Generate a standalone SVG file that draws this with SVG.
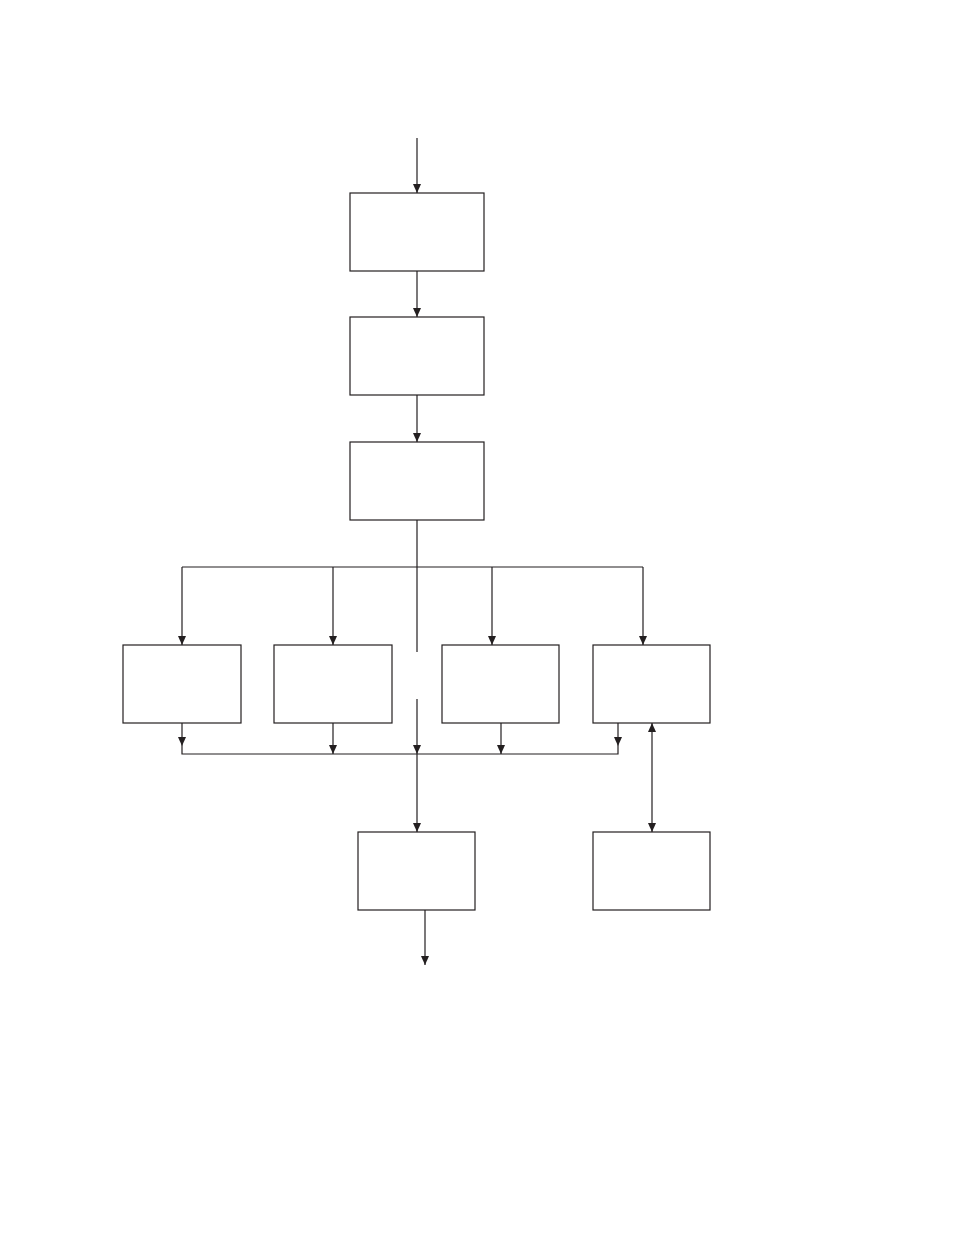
<svg xmlns="http://www.w3.org/2000/svg" width="954" height="1235" viewBox="0 0 954 1235">
<style>
.box{fill:#fff;stroke:#231f20;stroke-width:1.2}
.ln{fill:none;stroke:#231f20;stroke-width:1.2}
</style>
<defs>
<marker id="ah" viewBox="0 0 8 9" refX="4" refY="9" markerWidth="8" markerHeight="9" markerUnits="userSpaceOnUse" orient="auto-start-reverse">
<path d="M0,0 L8,0 L4,9 Z" fill="#231f20" transform="rotate(0)"/>
</marker>
<marker id="ad" viewBox="0 0 9 8" refX="9" refY="4" markerWidth="9" markerHeight="8" markerUnits="userSpaceOnUse" orient="auto-start-reverse">
<path d="M0,0 L9,4 L0,8 Z" fill="#231f20"/>
</marker>
</defs>
<rect width="954" height="1235" fill="#fff"/>
<g id="connectors">
<path class="ln" d="M417,138 V193" marker-end="url(#ad)"/>
<path class="ln" d="M417,271 V317" marker-end="url(#ad)"/>
<path class="ln" d="M417,395 V442" marker-end="url(#ad)"/>
<path class="ln" d="M417,520 V652"/>
<path class="ln" d="M182,567 H643"/>
<path class="ln" d="M182,567 V645" marker-end="url(#ad)"/>
<path class="ln" d="M333,567 V645" marker-end="url(#ad)"/>
<path class="ln" d="M492,567 V645" marker-end="url(#ad)"/>
<path class="ln" d="M643,567 V645" marker-end="url(#ad)"/>
<path class="ln" d="M182,723 V746" marker-end="url(#ad)"/>
<path class="ln" d="M182,746 V754 H618 V746"/>
<path class="ln" d="M618,723 V746" marker-end="url(#ad)"/>
<path class="ln" d="M333,723 V754" marker-end="url(#ad)"/>
<path class="ln" d="M501,723 V754" marker-end="url(#ad)"/>
<path class="ln" d="M417,699 V754" marker-end="url(#ad)"/>
<path class="ln" d="M417,754 V832" marker-end="url(#ad)"/>
<path class="ln" d="M652,723 V832" marker-start="url(#ad)" marker-end="url(#ad)"/>
<path class="ln" d="M425,910 V965" marker-end="url(#ad)"/>
</g>
<g id="n1"><rect class="box" x="350" y="193" width="134" height="78"/></g>
<g id="n2"><rect class="box" x="350" y="317" width="134" height="78"/></g>
<g id="n3"><rect class="box" x="350" y="442" width="134" height="78"/></g>
<g id="n4"><rect class="box" x="123" y="645" width="118" height="78"/></g>
<g id="n5"><rect class="box" x="274" y="645" width="118" height="78"/></g>
<g id="n6"><rect class="box" x="442" y="645" width="117" height="78"/></g>
<g id="n7"><rect class="box" x="593" y="645" width="117" height="78"/></g>
<g id="n8"><rect class="box" x="358" y="832" width="117" height="78"/></g>
<g id="n9"><rect class="box" x="593" y="832" width="117" height="78"/></g>
</svg>
